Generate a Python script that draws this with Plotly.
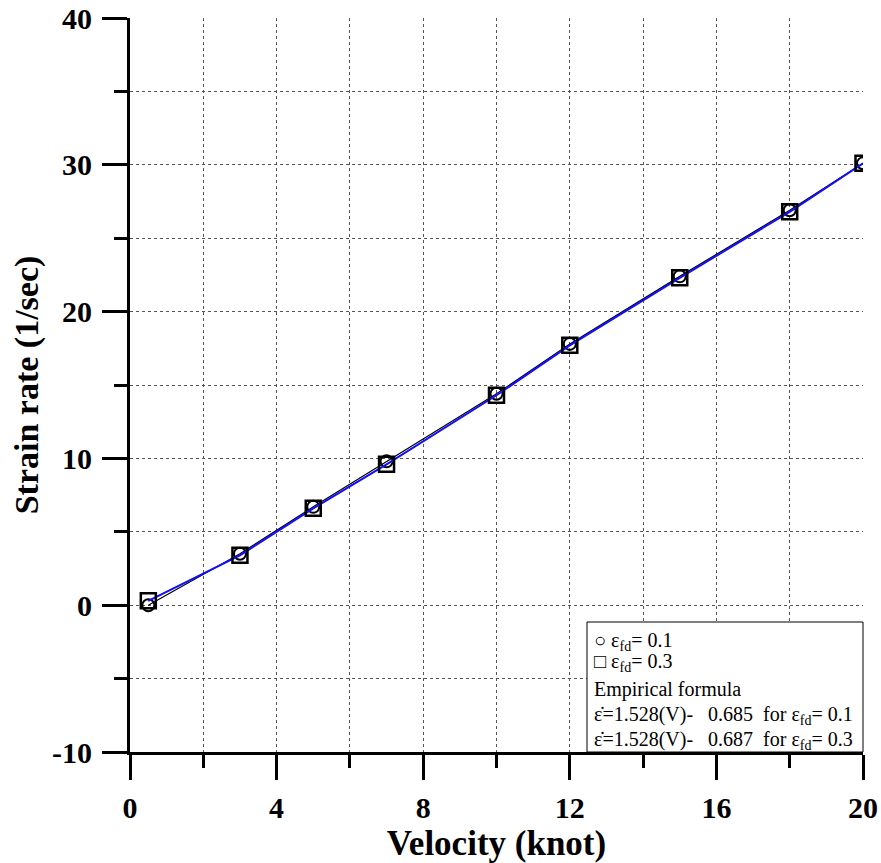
import plotly.graph_objects as go

velocity = [0.5, 3, 5, 7, 10, 12, 15, 18, 20]
rate_fd01 = [0.0, 3.5, 6.7, 9.8, 14.4, 17.8, 22.4, 26.9, 30.1]
rate_fd03 = [0.3, 3.4, 6.6, 9.6, 14.3, 17.7, 22.3, 26.8, 30.1]

x_ticks = [0, 4, 8, 12, 16, 20]
y_ticks = [-10, 0, 10, 20, 30, 40]

legend_lines = ["○ ε<sub>fd</sub>= 0.1",
                "□ ε<sub>fd</sub>= 0.3",
                "Empirical formula",
                "ε̇=1.528(V)-   0.685  for ε<sub>fd</sub>= 0.1",
                "ε̇=1.528(V)-   0.687  for ε<sub>fd</sub>= 0.3"]

serif = "Liberation Serif"

fig = go.Figure()
fig.add_trace(go.Scatter(x=velocity, y=rate_fd01, mode="lines+markers",
                         line=dict(color="black", width=1.2),
                         marker=dict(symbol="circle-open", size=12, color="black",
                                     line=dict(width=2)),
                         name="fd=0.1"))
fig.add_trace(go.Scatter(x=velocity, y=rate_fd03, mode="lines",
                         line=dict(color="#ff00ff", width=1.0),
                         showlegend=False))
fig.add_trace(go.Scatter(x=velocity, y=rate_fd03, mode="lines+markers",
                         line=dict(color="#1010ff", width=2),
                         marker=dict(symbol="square-open", size=15, color="black",
                                     line=dict(width=2.5)),
                         name="fd=0.3"))

axis_common = dict(showline=True, linecolor="black", linewidth=3,
                   ticks="outside", tickwidth=3, tickcolor="black",
                   showgrid=True, gridcolor="#555555", griddash="dot", gridwidth=1,
                   zeroline=False, mirror=False, automargin=False,
                   ticklabeloverflow="allow",
                   tickfont=dict(family=serif, size=30, color="black"))

fig.update_xaxes(range=[0, 20], tickvals=x_ticks,
                 ticktext=[f"<b>{v}</b>" for v in x_ticks], ticklen=25,
                 ticklabelstandoff=2,
                 minor=dict(dtick=2, ticklen=13, tickwidth=3, tickcolor="black",
                            ticks="outside", showgrid=True, gridcolor="#555555",
                            griddash="dot", gridwidth=1),
                 title=dict(text="<b>Velocity (knot)</b>",
                            font=dict(family=serif, size=35, color="black"), standoff=8),
                 **axis_common)
fig.update_yaxes(range=[-10, 40], tickvals=y_ticks,
                 ticktext=[f"<b>{v}</b>" for v in y_ticks], ticklen=25,
                 ticklabelstandoff=4,
                 minor=dict(dtick=5, ticklen=13, tickwidth=3, tickcolor="black",
                            ticks="outside", showgrid=True, gridcolor="#555555",
                            griddash="dot", gridwidth=1),
                 title=dict(text="<b>Strain rate (1/sec)</b>",
                            font=dict(family=serif, size=34, color="black"), standoff=4),
                 **axis_common)

# legend box (plot area spans 130..863 px horizontally, 18..752 px vertically)
fig.add_shape(type="rect", xref="paper", yref="paper",
              x0=(587 - 130) / 733, x1=1.0, y0=0.0, y1=(752 - 622) / 734,
              line=dict(color="black", width=1), fillcolor="white", layer="above")
line_px = [641, 662, 689, 715, 740]
for txt, py in zip(legend_lines, line_px):
    fig.add_annotation(x=(592 - 130) / 733, y=(752 - py) / 734, xref="paper", yref="paper",
                       xanchor="left", yanchor="middle", text=txt, showarrow=False,
                       align="left", font=dict(family=serif, size=20, color="black"))

fig.update_layout(width=881, height=863, showlegend=False,
                  plot_bgcolor="white", paper_bgcolor="white",
                  margin=dict(l=130, r=18, t=18, b=111))

fig.write_html("out.html", config={"displayModeBar": False},
               post_script="document.body.style.margin='0';document.body.style.overflow='hidden';")
